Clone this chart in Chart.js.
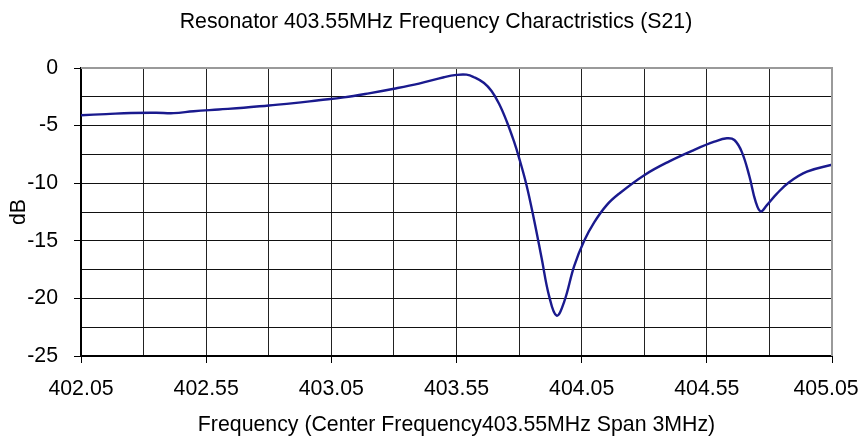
<!DOCTYPE html>
<html>
<head>
<meta charset="utf-8">
<script src="https://cdn.jsdelivr.net/npm/chart.js@4/dist/chart.umd.min.js"></script>
<style>
  html, body { margin: 0; padding: 0; background: #ffffff; }
  #wrap { width: 864px; height: 438px; }
</style>
</head>
<body>
<div id="wrap"><canvas id="c" width="864" height="438"></canvas></div>
<script>
// ---- data ----
const freqMHz = [402.05, 402.15, 402.25, 402.35, 402.42, 402.5, 402.6, 402.7, 402.8, 402.9,
  403.0, 403.1, 403.2, 403.3, 403.4, 403.5, 403.55, 403.59, 403.62, 403.66,
  403.69, 403.72, 403.75, 403.78, 403.8, 403.83, 403.86, 403.89, 403.92, 403.95,
  403.98, 404.02, 404.06, 404.1, 404.15, 404.2, 404.3, 404.4, 404.5, 404.58,
  404.63, 404.66, 404.69, 404.72, 404.745, 404.765, 404.79, 404.83, 404.88, 404.95, 405.05];
const s21dB = [-4.1, -4.0, -3.9, -3.88, -3.92, -3.75, -3.6, -3.45, -3.25, -3.05,
  -2.8, -2.55, -2.2, -1.8, -1.35, -0.8, -0.6, -0.58, -0.8, -1.3,
  -2.0, -3.1, -4.6, -6.4, -7.8, -10.2, -13.2, -16.5, -19.8, -21.5,
  -20.3, -17.2, -15.0, -13.4, -11.9, -10.9, -9.3, -8.1, -7.1, -6.4,
  -6.1, -6.25, -7.3, -9.4, -11.6, -12.45, -11.9, -10.9, -9.9, -9.0, -8.4];
const xGridValues = [402.05, 402.3, 402.55, 402.8, 403.05, 403.3, 403.55, 403.8, 404.05, 404.3, 404.55, 404.8, 405.05];
const xTickLabels = ["402.05", "", "402.55", "", "403.05", "", "403.55", "", "404.05", "", "404.55", "", "405.05  "];
const yGridValues = [-25, -22.5, -20, -17.5, -15, -12.5, -10, -7.5, -5, -2.5, 0];
const yTickLabels = ["-25", "", "-20", "", "-15", "", "-10", "", "-5", "", "0"];

const chartTitle = "Resonator 403.55MHz Frequency Charactristics (S21)";
const xTitle = "Frequency (Center Frequency403.55MHz Span 3MHz)";
const yTitle = "dB";

const FONT = "'Liberation Sans', Arial, sans-serif";
const FS = 21.3;

const framePlugin = {
  id: 'frame',
  afterDraw(chart) {
    const a = chart.chartArea, ctx = chart.ctx;
    ctx.save();
    ctx.strokeStyle = '#9a9a9a';
    ctx.lineWidth = 2;
    ctx.beginPath();
    ctx.moveTo(a.left, a.top);
    ctx.lineTo(a.right, a.top);
    ctx.lineTo(a.right, a.bottom);
    ctx.stroke();
    // chart title
    ctx.fillStyle = '#000';
    ctx.font = FS + 'px ' + FONT;
    ctx.textAlign = 'center';
    ctx.textBaseline = 'middle';
    ctx.fillText(chartTitle, chart.width / 2 + 4, 22);
    ctx.restore();
  }
};

new Chart(document.getElementById('c'), {
  type: 'line',
  data: {
    datasets: [{
      data: freqMHz.map((f, i) => ({ x: f, y: s21dB[i] })),
      borderColor: '#1a1a8e',
      borderWidth: 2.4,
      pointRadius: 0,
      tension: 0.4,
      fill: false
    }]
  },
  options: {
    responsive: false,
    animation: false,
    layout: { padding: { left: 0, right: 32, top: 68, bottom: 0 } },
    plugins: {
      legend: { display: false },
      tooltip: { enabled: false },
      title: { display: false }
    },
    scales: {
      x: {
        type: 'linear',
        min: 402.05,
        max: 405.05,
        afterBuildTicks(scale) { scale.ticks = xGridValues.map(v => ({ value: v })); },
        afterFit(scale) { scale.height = 82; scale.paddingLeft = 0; scale.paddingRight = 0; },
        ticks: {
          color: '#000',
          font: { family: FONT, size: FS },
          padding: 13,
          maxRotation: 0,
          autoSkip: false,
          callback(v, i) { return xTickLabels[i]; }
        },
        grid: {
          color: '#222',
          lineWidth: 1,
          tickLength: 7,
          tickColor: (ctx) => (ctx.index % 2 === 0 ? '#000' : 'rgba(0,0,0,0)')
        },
        border: { color: '#000', width: 2 },
        title: {
          display: true,
          text: xTitle,
          color: '#000',
          font: { family: FONT, size: FS },
          padding: { top: 0, bottom: 0 }
        }
      },
      y: {
        type: 'linear',
        min: -25,
        max: 0,
        afterBuildTicks(scale) { scale.ticks = yGridValues.map(v => ({ value: v })); },
        afterFit(scale) { scale.width = 81; scale.paddingTop = 0; scale.paddingBottom = 0; },
        ticks: {
          color: '#000',
          font: { family: FONT, size: FS },
          padding: 16,
          autoSkip: false,
          callback(v, i) { return yTickLabels[i]; }
        },
        grid: {
          color: '#111',
          lineWidth: 1,
          tickLength: 7,
          tickColor: (ctx) => (ctx.index % 2 === 0 ? '#000' : 'rgba(0,0,0,0)')
        },
        border: { color: '#000', width: 2 },
        title: {
          display: true,
          text: yTitle,
          color: '#000',
          font: { family: FONT, size: FS },
          padding: { top: 6, bottom: 0 }
        }
      }
    }
  },
  plugins: [framePlugin]
});
</script>
</body>
</html>
